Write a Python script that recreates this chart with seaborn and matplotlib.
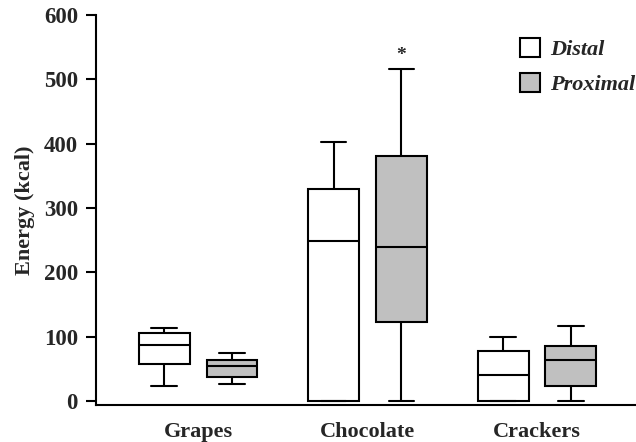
import matplotlib
matplotlib.use("Agg")
import matplotlib.pyplot as plt
import numpy as np
import pandas as pd
import seaborn as sns

# summary values: min, Q1, median, Q3, max
foods = ["Grapes", "Chocolate", "Crackers"]
distal = {
    "Grapes": [23, 58, 87, 105, 113],
    "Chocolate": [0, 0, 248, 330, 402],
    "Crackers": [0, 0, 41, 78, 100],
}
proximal = {
    "Grapes": [27, 37, 55, 64, 75],
    "Chocolate": [0, 123, 239, 381, 516],
    "Crackers": [0, 24, 64, 85, 116],
}
yticks = [0, 100, 200, 300, 400, 500, 600]

rows = []
for site, d in [("Distal", distal), ("Proximal", proximal)]:
    for food in foods:
        for v in d[food]:
            rows.append({"food": food, "site": site, "kcal": v})
df = pd.DataFrame(rows)

sns.set_style("ticks")
plt.rcParams["font.family"] = ["Liberation Serif", "DejaVu Serif"]
plt.rcParams["font.weight"] = "bold"

fig = plt.figure(figsize=(6.36, 4.42), dpi=100)
ax = fig.add_axes([0.151, 0.084, 0.849, 0.882])

sns.boxplot(data=df, x="food", y="kcal", hue="site", order=foods,
            hue_order=["Distal", "Proximal"],
            palette={"Distal": "white", "Proximal": "#c0c0c0"},
            width=0.8, gap=0.25, whis=(0, 100), showfliers=False,
            linewidth=1.5, linecolor="black", ax=ax)

ax.text(1.2, 537, "*", ha="center", va="center", fontsize=14, fontweight="bold")

ax.set_ylim(-6, 600)
ax.set_xlim(-0.602, 2.584)
ax.set_yticks(yticks)
ax.set_xlabel("")
ax.set_ylabel("Energy (kcal)", fontsize=16, fontweight="bold", labelpad=6)
ax.tick_params(axis="y", length=7, width=1.5, pad=6, labelsize=16.5, color="black")
ax.tick_params(axis="x", length=0, pad=12, labelsize=16)
for lab in ax.get_xticklabels() + ax.get_yticklabels():
    lab.set_fontweight("bold")
for s in ["left", "bottom"]:
    ax.spines[s].set_linewidth(1.5)
    ax.spines[s].set_color("black")
sns.despine(ax=ax)

leg = ax.legend(loc="upper left", bbox_to_anchor=(509 / 636, 1 - 27 / 442),
                bbox_transform=fig.transFigure, frameon=False, borderpad=0,
                handlelength=0.9, handleheight=0.9, handletextpad=0.45,
                labelspacing=0.6,
                prop={"size": 16, "weight": "bold", "style": "italic"})
for h in leg.legend_handles:
    h.set_edgecolor("black")
    h.set_linewidth(1.5)

fig.savefig("out.png", dpi=100)
